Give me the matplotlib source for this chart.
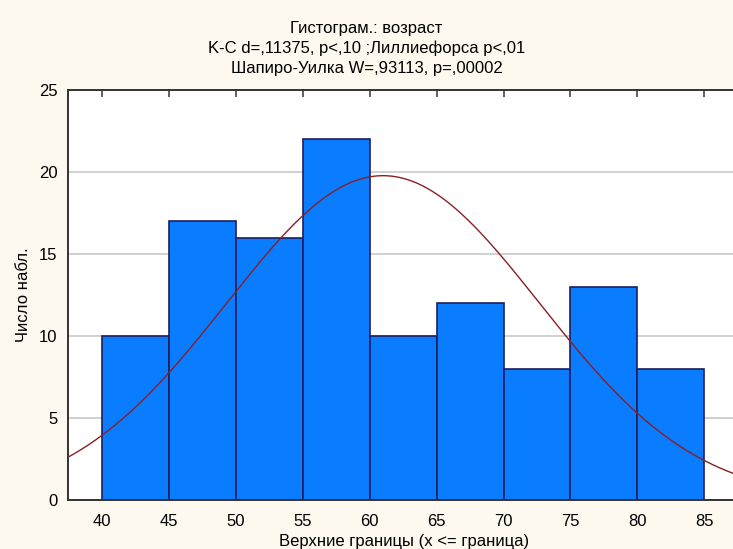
import numpy as np
import matplotlib.pyplot as plt

plt.rcParams['font.family'] = ['Liberation Sans Narrow', 'Liberation Sans', 'DejaVu Sans']

# Границы интервалов и частоты
bin_edges = [40, 45, 50, 55, 60, 65, 70, 75, 80, 85]
counts = [10, 17, 16, 22, 10, 12, 8, 13, 8]
x_ticks = [40, 45, 50, 55, 60, 65, 70, 75, 80, 85]

# Параметры нормальной кривой
mean_age = 61.0
sd_age = 11.7

title_lines = ['Гистограм.: возраст',
               'K-C d=,11375, p<,10 ;Лиллиефорса p<,01',
               'Шапиро-Уилка W=,93113, p=,00002']

fig = plt.figure(figsize=(7.33, 5.49), dpi=100, facecolor='#fdf9ef')
ax = fig.add_axes([68 / 733, 49 / 549, 1 - 68 / 733 + 0.01, 410 / 549])
ax.set_facecolor('white')

lefts = np.array(bin_edges[:-1])
widths = np.diff(bin_edges)
ax.bar(lefts, counts, width=widths, align='edge', color='#0a7cff',
       edgecolor='#1c1f5e', linewidth=1.2, zorder=2)

n = sum(counts)
x = np.linspace(37.4, 88, 300)
y = n * 5 / (sd_age * np.sqrt(2 * np.pi)) * np.exp(-0.5 * ((x - mean_age) / sd_age) ** 2)
ax.plot(x, y, color='#8a1f24', linewidth=1.0, zorder=3)

ax.set_xlim(37.45, 87.7)
ax.set_ylim(0, 25)
ax.set_xticks(x_ticks)
ax.set_yticks([0, 5, 10, 15, 20, 25])
ax.yaxis.grid(True, color='#c8c8c8', linewidth=1.2, zorder=0)
ax.set_axisbelow(True)

ax.tick_params(axis='x', bottom=False, top=True, direction='in', length=5,
               width=1.2, color='#444444', labelsize=12, pad=10)
ax.tick_params(axis='y', left=False, labelsize=12, pad=4)
for side in ['left', 'bottom', 'top']:
    ax.spines[side].set_color('#333333')
    ax.spines[side].set_linewidth(1.4)
ax.spines['right'].set_visible(False)

ax.set_xlabel('Верхние границы (x <= граница)', fontsize=12, labelpad=4)
ax.set_ylabel('Число набл.', fontsize=12, labelpad=6)

for i, line in enumerate(title_lines):
    fig.text(0.5, 1 - (28 + 20.5 * i) / 549, line, ha='center', va='center', fontsize=12)

plt.savefig('out.png', dpi=100, facecolor=fig.get_facecolor())
